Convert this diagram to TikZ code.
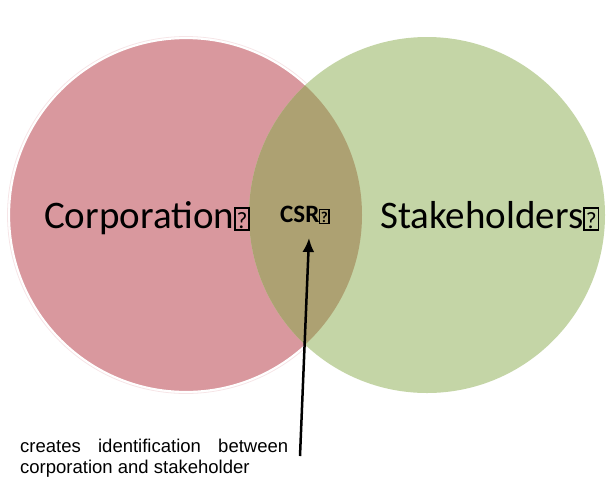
\documentclass[tikz,border=0pt]{standalone}
\usepackage{fontspec}
\usepackage{graphicx}
\setmainfont{Carlito}
\newfontfamily\notefont{Liberation Sans}
\usetikzlibrary{arrows.meta}
\definecolor{corpred}{RGB}{217,152,158}
\definecolor{stakegreen}{RGB}{196,213,166}
\definecolor{csrolive}{RGB}{173,161,114}
% Kasten fuer fehlendes Zeichen
\newcommand{\qbox}{{\fboxsep=0.02em\fboxrule=0.045em\fbox{\rule{0pt}{0.47em}\scalebox{0.6}{?}}}}
\begin{document}
\begin{tikzpicture}[x=1pt, y=-1pt,
	vennlabel/.style={anchor=base west, inner sep=0pt},
	note/.style={anchor=base west, inner sep=0pt, align=left,
		font=\notefont\fontsize{18.5}{21}\selectfont}]
	\useasboundingbox (0,0) rectangle (607,483);
	% Kreise
	\draw[corpred!25, line width=0.8pt] (186,215) circle (178.5pt);
	\fill[corpred, draw=white, line width=1.2pt] (186,215) circle (176.5pt);
	\fill[stakegreen] (427,215) circle (178pt);
	\begin{scope}
		\clip (186,215) circle (176pt);
		\fill[csrolive] (427,215) circle (178pt);
	\end{scope}
	% Beschriftungen
	\node[vennlabel, font=\fontsize{39}{44}\selectfont] (corp) at (44,228)
	{Corporation\qbox};
	\node[vennlabel, font=\bfseries\fontsize{25}{30}\selectfont] (csr) at (280,222)
	{CSR\qbox};
	\node[vennlabel, font=\fontsize{39}{44}\selectfont] (stake) at (380,228)
	{Stakeholders\qbox};
	% Pfeil mit Erklaerung
	\node[note] (expl) at (20,473)
	{\makebox[268pt][s]{creates identification between}\\corporation and stakeholder};
	\coordinate (foot) at (300,456);
	\coordinate (tip) at (309,238);
	\draw[-{Latex[length=14pt,width=12pt]}, line width=2.5pt] (foot) -- (tip);
\end{tikzpicture}
\end{document}
